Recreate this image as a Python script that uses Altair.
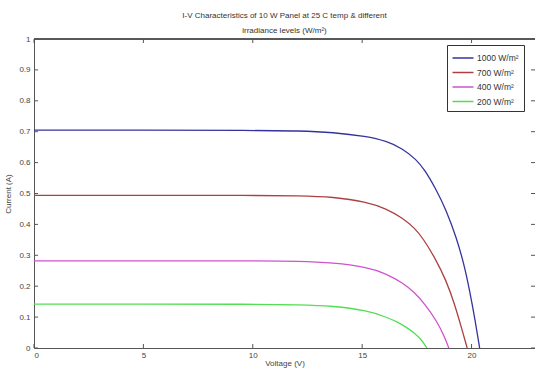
import altair as alt
import pandas as pd

# ---- data ----
series_names = ["1000 W/m²", "700 W/m²", "400 W/m²", "200 W/m²"]
series_colors = ["#34349c", "#ad4040", "#cf52cf", "#52df52"]

v_1000 = [0, 5, 10, 12.15, 13.67, 15.19, 16.1, 16.86, 17.47, 17.85, 18.39, 18.84, 19.30, 19.65, 19.91, 20.14, 20.37]
i_1000 = [0.705, 0.705, 0.704, 0.703, 0.698, 0.685, 0.670, 0.645, 0.610, 0.578, 0.512, 0.446, 0.359, 0.273, 0.187, 0.100, 0.0]

v_700 = [0, 5, 10, 12.15, 13.67, 15.19, 16.1, 16.86, 17.40, 17.78, 18.31, 18.84, 19.22, 19.53, 19.80]
i_700 = [0.494, 0.494, 0.494, 0.493, 0.489, 0.473, 0.451, 0.420, 0.388, 0.355, 0.294, 0.219, 0.143, 0.068, 0.0]

v_400 = [0, 5, 10, 12.15, 13.67, 15.19, 16.1, 16.86, 17.40, 17.85, 18.39, 18.77, 18.96]
i_400 = [0.282, 0.282, 0.282, 0.281, 0.276, 0.262, 0.241, 0.210, 0.180, 0.143, 0.090, 0.036, 0.0]

v_200 = [0, 5, 10, 12.15, 13.67, 15.19, 16.1, 16.6, 17.0, 17.4, 17.7, 17.96]
i_200 = [0.142, 0.142, 0.142, 0.140, 0.136, 0.122, 0.100, 0.085, 0.068, 0.048, 0.028, 0.0]

x_ticks = [0, 5, 10, 15, 20]
y_ticks = [0, 0.1, 0.2, 0.3, 0.4, 0.5, 0.6, 0.7, 0.8, 0.9, 1.0]

x_domain = [0, 22.9]
y_domain = [0, 1]

# ---- build tables ----
rows = []
for name, vs, cs in zip(series_names, [v_1000, v_700, v_400, v_200], [i_1000, i_700, i_400, i_200]):
    for k, (v, c) in enumerate(zip(vs, cs)):
        rows.append({"series": name, "V": v, "I": c, "k": k})
df = pd.DataFrame(rows)
xt = pd.DataFrame({"t": x_ticks})
yt = pd.DataFrame({"t": y_ticks})

W, H = 501, 309
FONT = "Liberation Sans"
AX = "#555555"

xs = alt.Scale(domain=x_domain, nice=False, zero=False)
ys = alt.Scale(domain=y_domain, nice=False)

xaxis = alt.Axis(values=x_ticks, ticks=False, domainColor=AX, labelColor="#444",
                 labelFontSize=8, titleFontSize=8, titleFontWeight="normal",
                 titleColor="#444", labelPadding=3, titlePadding=0, grid=False,
                 labelFont=FONT, titleFont=FONT, labelOverlap=False, title="Voltage (V)")
yaxis = alt.Axis(values=y_ticks, ticks=False, domainColor=AX, labelColor="#444",
                 labelFontSize=8, titleFontSize=8, titleFontWeight="normal",
                 titleColor="#444", labelPadding=4, titlePadding=6, grid=False,
                 labelFont=FONT, titleFont=FONT, format=".1~f", labelOverlap=False,
                 title="Current (A)")

lines = alt.Chart(df).mark_line(strokeWidth=1.3, interpolate="basis", clip=True).encode(
    x=alt.X("V:Q", scale=xs, axis=xaxis),
    y=alt.Y("I:Q", scale=ys, axis=yaxis),
    color=alt.Color("series:N", scale=alt.Scale(domain=series_names, range=series_colors),
                    sort=series_names, title=None,
                    legend=alt.Legend(orient="none", legendX=413, legendY=6,
                                      symbolType="M-1.5,0L1.5,0", symbolSize=196,
                                      symbolStrokeWidth=1.5,
                                      labelFontSize=8.5, labelFont=FONT, labelColor="#333",
                                      strokeColor="#333", fillColor="white", padding=5,
                                      rowPadding=1.5, symbolOffset=3, labelOffset=6)),
    order="k:Q",
)

tick_len = 4
bx = alt.Chart(xt).mark_rule(color=AX, strokeWidth=1).encode(
    x=alt.X("t:Q", scale=xs, axis=xaxis), y=alt.value(H), y2=alt.value(H - tick_len))
tx = alt.Chart(xt).mark_rule(color=AX, strokeWidth=1).encode(
    x=alt.X("t:Q", scale=xs, axis=xaxis), y=alt.value(0), y2=alt.value(tick_len))
ly = alt.Chart(yt).mark_rule(color=AX, strokeWidth=1).encode(
    y=alt.Y("t:Q", scale=ys, axis=yaxis), x=alt.value(0), x2=alt.value(tick_len))
ry = alt.Chart(yt).mark_rule(color=AX, strokeWidth=1).encode(
    y=alt.Y("t:Q", scale=ys, axis=yaxis), x=alt.value(W), x2=alt.value(W - tick_len))
top = alt.Chart(xt).mark_rule(color=AX, strokeWidth=1).encode(
    x=alt.value(0), x2=alt.value(W), y=alt.value(0))

chart = alt.layer(lines, bx, tx, ly, ry, top).properties(
    width=W, height=H,
    autosize=alt.AutoSizeParams(type="none"),
    padding={"left": 34, "top": 39, "right": 0, "bottom": 22},
    title=alt.Title(["I-V Characteristics of 10 W Panel at 25 C temp & different",
                     "irradiance levels (W/m²)"],
                    fontSize=8, font=FONT, fontWeight="normal", color="#333",
                    lineHeight=15, offset=0, anchor="middle"),
).configure_view(stroke=None).configure(background="white")

chart.save("out.html", embed_options={"renderer": "svg", "actions": False})
